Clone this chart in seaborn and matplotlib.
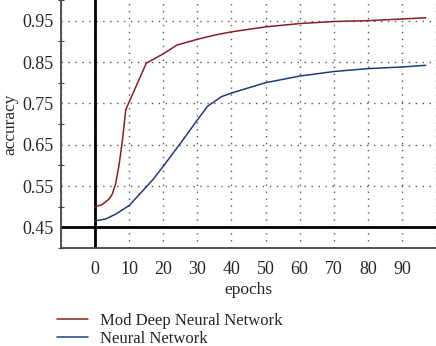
import seaborn as sns
import matplotlib.pyplot as plt
import pandas as pd
import numpy as np
from matplotlib.ticker import FixedLocator

# Data
deep_epochs = [0, 2, 4, 5, 6, 7, 8, 9, 15, 20, 24, 30, 35, 40, 50, 60, 70, 80, 90, 97]
deep_acc = [0.500, 0.505, 0.518, 0.530, 0.555, 0.600, 0.660, 0.735, 0.847, 0.870,
            0.891, 0.905, 0.915, 0.923, 0.935, 0.943, 0.948, 0.950, 0.954, 0.957]
nn_epochs = [0, 3, 6, 10, 13, 17, 20, 25, 30, 33, 37, 40, 50, 60, 70, 80, 90, 97]
nn_acc = [0.466, 0.470, 0.482, 0.503, 0.530, 0.566, 0.598, 0.653, 0.710, 0.743, 0.766, 0.775,
          0.800, 0.816, 0.827, 0.834, 0.838, 0.842]
labels = ['Mod Deep Neural Network', 'Neural Network']
colors = ['#8B1E24', '#1F3C7A']
yticks = [0.45, 0.55, 0.65, 0.75, 0.85, 0.95]

df = pd.concat([
    pd.DataFrame({'epochs': deep_epochs, 'accuracy': deep_acc, 'model': labels[0]}),
    pd.DataFrame({'epochs': nn_epochs, 'accuracy': nn_acc, 'model': labels[1]}),
])

sns.set_style('white')
plt.rcParams['font.family'] = ['Liberation Serif', 'DejaVu Serif']
plt.rcParams['font.size'] = 12

fig = plt.figure(figsize=(4.36, 3.46), dpi=100)
ax = fig.add_axes([0.14, 0.283, 0.86, 0.717])

sns.lineplot(data=df, x='epochs', y='accuracy', hue='model', palette=colors,
             linewidth=1.1, ax=ax, sort=False)

ax.set_xlim(-10, 100)
ax.set_ylim(0.40, 1.0)

# ticks
ax.set_xticks(np.arange(-10, 101, 10))
ax.set_xticklabels(['' if t < 0 or t > 90 else str(t) for t in range(-10, 101, 10)])
ax.set_yticks(yticks)
ax.set_yticklabels([f'{t:.2f}' for t in yticks])
ax.yaxis.set_minor_locator(FixedLocator([0.40, 0.50, 0.60, 0.70, 0.80, 0.90, 1.0]))
ax.tick_params(axis='x', direction='out', length=5, width=1.2, color='#444444', labelsize=13, pad=4)
ax.tick_params(axis='y', which='major', direction='inout', length=7, width=1.0, color='#444444',
               labelsize=13, pad=2)
ax.tick_params(axis='y', which='minor', direction='inout', length=5, width=0.8, color='#444444', left=True)

# dotted grid
ax.grid(True, which='major', color='#555555', linestyle=(0, (1, 4)), linewidth=1.0)

# thick reference lines
ax.axvline(0, color='black', linewidth=2.0, zorder=1)
ax.axhline(0.45, color='black', linewidth=2.0, zorder=1)

for side in ['top', 'right']:
    ax.spines[side].set_visible(False)
for side in ['left', 'bottom']:
    ax.spines[side].set_color('#444444')
    ax.spines[side].set_linewidth(1.3)

ax.set_xlabel('epochs', fontsize=12.5, labelpad=3)
ax.set_ylabel('accuracy', fontsize=12.5, labelpad=3)

ax.legend(loc='upper left', bbox_to_anchor=(-0.0285, -0.234), frameon=False,
          fontsize=12, handlelength=1.85, handletextpad=0.72, labelspacing=0.14,
          borderaxespad=0)

plt.savefig('out.png', dpi=100)
